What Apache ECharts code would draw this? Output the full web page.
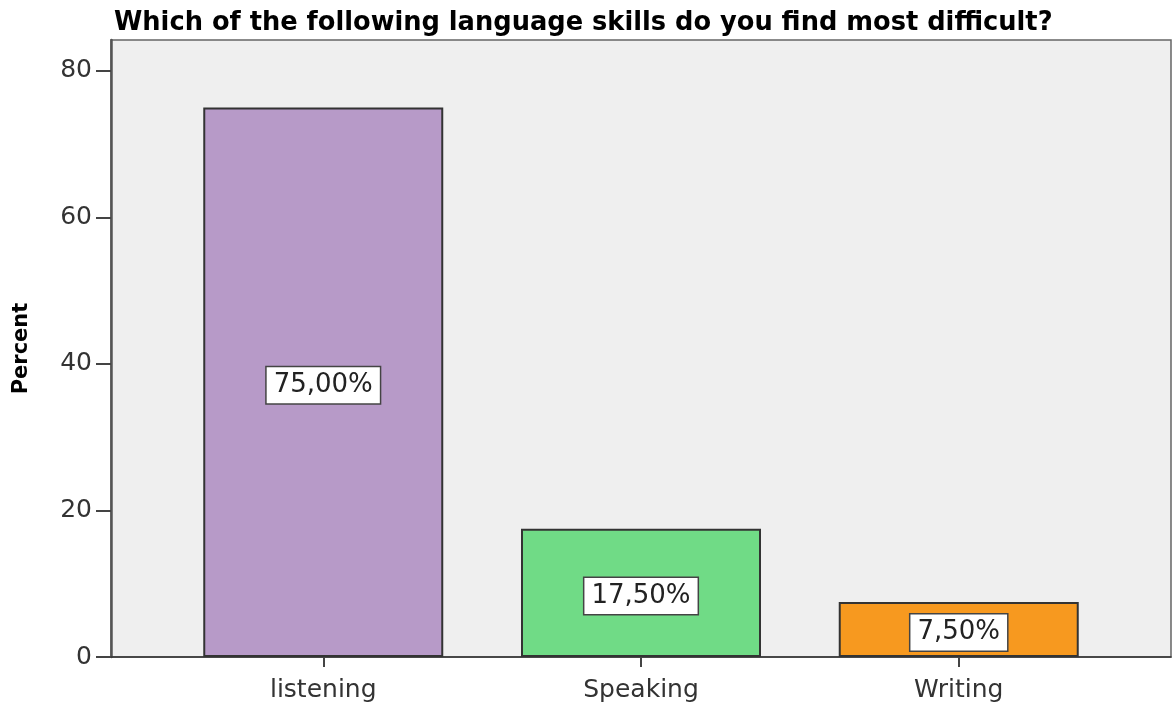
<!DOCTYPE html>
<html>
<head>
<meta charset="utf-8">
<script src="https://cdn.jsdelivr.net/npm/echarts@6/dist/echarts.min.js"></script>
<style>
  html, body { margin: 0; padding: 0; background: #fff; }
  #chart { width: 1176px; height: 706px; }
</style>
</head>
<body>
<div id="chart"></div>
<script>
var categories = ['listening', 'Speaking', 'Writing'];
var percents = [75.0, 17.5, 7.5];
var barColors = ['#B79AC8', '#70DB86', '#F7991F'];
var yTicks = [0, 20, 40, 60, 80];

var chart = echarts.init(document.getElementById('chart'));
chart.setOption({
  animation: false,
  textStyle: { fontFamily: 'DejaVu Sans, sans-serif' },
  title: {
    text: 'Which of the following language skills do you find most difficult?',
    left: 109,
    top: 5,
    textStyle: { fontSize: 25.7, fontWeight: 'bold', color: '#000', fontFamily: 'DejaVu Sans' }
  },
  grid: {
    left: 111, right: 5, top: 40, bottom: 49,
    show: true,
    backgroundColor: '#EFEFEF',
    borderColor: '#666',
    borderWidth: 1.5
  },
  xAxis: {
    // categories sit on integer positions; the padding leaves the SPSS-like margins
    type: 'value',
    min: -0.668,
    max: 2.668,
    splitLine: { show: false },
    axisLine: { show: true, onZero: false, lineStyle: { color: '#333', width: 1.5 } },
    axisTick: {
      show: true, length: 10,
      customValues: categories.map(function (c, i) { return i; }),
      lineStyle: { color: '#444', width: 2 }
    },
    axisLabel: {
      fontSize: 25, color: '#333', margin: 21,
      customValues: categories.map(function (c, i) { return i; }),
      formatter: function (v) { return categories[Math.round(v)] || ''; }
    }
  },
  yAxis: {
    type: 'value',
    min: 0,
    max: 84.2,
    name: 'Percent',
    nameLocation: 'middle',
    nameGap: 79,
    nameTextStyle: { fontSize: 21, fontWeight: 'bold', color: '#000' },
    splitLine: { show: false },
    axisLine: { show: true, onZero: false, lineStyle: { color: '#555', width: 2.5 } },
    axisTick: { show: true, length: 15, customValues: yTicks, lineStyle: { color: '#444', width: 2 } },
    axisLabel: { fontSize: 25, color: '#333', margin: 19, customValues: yTicks }
  },
  series: [{
    type: 'bar',
    barWidth: 240,
    data: percents.map(function (v, i) {
      return { value: [i, v], itemStyle: { color: barColors[i] } };
    }),
    itemStyle: { borderColor: '#333', borderWidth: 2 },
    label: {
      show: true,
      position: 'inside',
      offset: [0, 3],
      formatter: function (p) { return p.value[1].toFixed(2).replace('.', ',') + '%'; },
      fontSize: 26,
      color: '#222',
      backgroundColor: '#fff',
      borderColor: '#444',
      borderWidth: 1.5,
      padding: [5, 7, 5, 7]
    }
  }]
});
</script>
</body>
</html>
